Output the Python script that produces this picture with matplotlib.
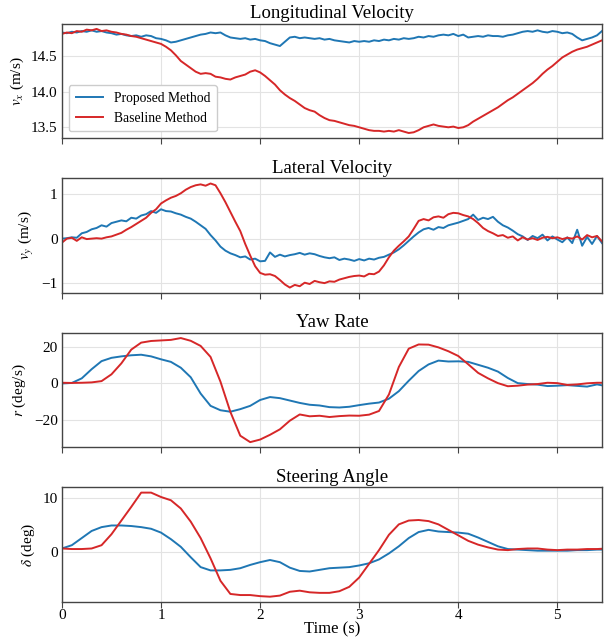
import numpy as np
import matplotlib
matplotlib.use("Agg")
import matplotlib.pyplot as plt
from matplotlib.ticker import MultipleLocator

plt.rcParams["font.family"] = ["Liberation Serif", "DejaVu Serif"]
plt.rcParams["mathtext.fontset"] = "stix"

# sample times (s): velocities logged at 20 Hz, yaw rate / steering at 10 Hz
t_fast = np.arange(110) * 0.05
t_slow = np.arange(56) * 0.1

vx_proposed = [
    14.83, 14.82, 14.84, 14.83, 14.85, 14.84, 14.86, 14.84, 14.85, 14.83,
    14.82, 14.80, 14.81, 14.79, 14.78, 14.79, 14.77, 14.79, 14.78, 14.75,
    14.74, 14.72, 14.69, 14.70, 14.72, 14.74, 14.76, 14.78, 14.80, 14.81,
    14.83, 14.82, 14.83, 14.79, 14.76, 14.75, 14.74, 14.75, 14.73, 14.74,
    14.72, 14.71, 14.68, 14.66, 14.64, 14.70, 14.76, 14.77, 14.75, 14.76,
    14.75, 14.74, 14.75, 14.73, 14.74, 14.72, 14.71, 14.70, 14.69, 14.71,
    14.70, 14.71, 14.70, 14.72, 14.71, 14.73, 14.72, 14.74, 14.73, 14.75,
    14.74, 14.75, 14.77, 14.76, 14.78, 14.77, 14.79, 14.80, 14.79, 14.81,
    14.78, 14.80, 14.76, 14.77, 14.78, 14.77, 14.79, 14.78, 14.78, 14.77,
    14.79, 14.80, 14.82, 14.84, 14.85, 14.84, 14.86, 14.84, 14.83, 14.85,
    14.84, 14.82, 14.83, 14.81, 14.76, 14.72, 14.74, 14.76, 14.79, 14.85,
]
vx_baseline = [
    14.81, 14.83, 14.82, 14.85, 14.84, 14.87, 14.86, 14.88, 14.85, 14.86,
    14.84, 14.83, 14.81, 14.80, 14.78, 14.77, 14.75, 14.73, 14.71, 14.69,
    14.67, 14.63, 14.58, 14.51, 14.43, 14.38, 14.33, 14.28, 14.25, 14.26,
    14.25, 14.21, 14.20, 14.18, 14.17, 14.20, 14.22, 14.24, 14.28, 14.30,
    14.27, 14.22, 14.16, 14.10, 14.02, 13.96, 13.91, 13.87, 13.82, 13.77,
    13.74, 13.72, 13.67, 13.63, 13.60, 13.59, 13.57, 13.55, 13.53, 13.52,
    13.50, 13.48, 13.46, 13.45, 13.45, 13.44, 13.45, 13.44, 13.46, 13.44,
    13.42, 13.43, 13.46, 13.50, 13.52, 13.54, 13.52, 13.51, 13.50, 13.51,
    13.49, 13.50, 13.53, 13.58, 13.62, 13.66, 13.70, 13.74, 13.78, 13.83,
    13.88, 13.92, 13.97, 14.02, 14.07, 14.12, 14.18, 14.25, 14.31, 14.36,
    14.42, 14.48, 14.52, 14.56, 14.59, 14.61, 14.63, 14.66, 14.69, 14.72,
]

vy_proposed = [
    0.00, 0.01, 0.03, 0.02, 0.12, 0.15, 0.21, 0.24, 0.30, 0.27,
    0.35, 0.38, 0.41, 0.39, 0.47, 0.45, 0.52, 0.55, 0.62, 0.58,
    0.66, 0.62, 0.61, 0.57, 0.54, 0.49, 0.45, 0.38, 0.30, 0.22,
    0.08, -0.04, -0.18, -0.27, -0.33, -0.37, -0.42, -0.40, -0.47, -0.45,
    -0.51, -0.50, -0.31, -0.41, -0.36, -0.40, -0.37, -0.35, -0.32, -0.36,
    -0.33, -0.35, -0.39, -0.42, -0.44, -0.42, -0.48, -0.45, -0.47, -0.50,
    -0.46, -0.49, -0.45, -0.47, -0.43, -0.41, -0.36, -0.31, -0.24, -0.15,
    -0.05, 0.05, 0.14, 0.21, 0.24, 0.20, 0.26, 0.24, 0.30, 0.33,
    0.36, 0.40, 0.44, 0.54, 0.42, 0.47, 0.44, 0.49, 0.38, 0.30,
    0.25, 0.18, 0.10, 0.05, -0.03, 0.06, 0.01, 0.09, -0.04, 0.05,
    -0.02, -0.08, 0.03, -0.10, 0.20, -0.16, 0.04, -0.12, 0.06, -0.10,
]
vy_baseline = [
    -0.09, 0.00, 0.02, -0.05, 0.03, -0.01, 0.00, 0.01, 0.00, 0.03,
    0.05, 0.09, 0.13, 0.20, 0.26, 0.33, 0.40, 0.47, 0.58, 0.66,
    0.79, 0.86, 0.92, 0.96, 1.02, 1.10, 1.16, 1.20, 1.22, 1.19,
    1.24, 1.20, 1.02, 0.82, 0.60, 0.38, 0.17, -0.12, -0.38, -0.62,
    -0.77, -0.81, -0.80, -0.84, -0.93, -1.03, -1.10, -1.04, -1.07, -0.99,
    -1.02, -0.95, -0.98, -1.00, -0.96, -0.97, -0.92, -0.89, -0.86, -0.84,
    -0.83, -0.85, -0.79, -0.80, -0.74, -0.60, -0.42, -0.27, -0.16, -0.06,
    0.05, 0.22, 0.40, 0.44, 0.41, 0.48, 0.50, 0.47, 0.55, 0.58,
    0.57, 0.53, 0.50, 0.44, 0.35, 0.24, 0.17, 0.12, 0.06, 0.08,
    0.02, 0.05, -0.04, 0.03, -0.02, 0.01, -0.03, 0.02, 0.04, 0.01,
    0.03, -0.01, 0.02, 0.00, 0.05, -0.02, 0.08, 0.03, 0.06, -0.06,
]

r_proposed = [
    0.0, 0.3, 2.8, 7.8, 12.2, 14.0, 14.8, 15.4, 15.7, 14.8,
    13.2, 11.8, 8.6, 3.4, -5.5, -12.2, -14.6, -15.4, -14.0, -12.2,
    -9.0, -7.4, -8.0, -9.3, -10.6, -11.6, -12.0, -12.9, -13.1, -12.7,
    -11.8, -11.0, -10.4, -8.3, -4.2, 1.5, 6.8, 10.4, 12.5, 12.0,
    12.1, 11.8, 10.2, 8.6, 6.5, 3.0, 0.2, -0.3, -0.6, -1.4,
    -1.2, -0.9, -1.3, -1.7, -0.5, -1.5,
]
r_baseline = [
    0.4, 0.3, 0.4, 0.6, 1.3, 5.0, 11.0, 18.5, 22.3, 23.2,
    23.5, 23.8, 24.8, 23.3, 20.5, 14.5, 1.0, -15.5, -28.5, -32.0,
    -30.6, -28.0, -25.0, -20.3, -16.9, -17.9, -17.6, -18.3, -17.8, -17.5,
    -17.6, -17.0, -15.0, -6.0, 9.0, 19.0, 21.3, 21.2, 19.7, 17.6,
    15.0, 10.5, 5.8, 2.8, 0.2, -1.5, -1.2, -0.6, -0.3, 0.4,
    0.2, -0.8, -0.5, 0.1, 0.4, 0.4,
]

delta_proposed = [
    0.7, 1.3, 2.6, 3.9, 4.6, 4.9, 4.9, 4.8, 4.6, 4.3,
    3.6, 2.4, 1.0, -0.9, -2.7, -3.3, -3.3, -3.2, -2.9, -2.3,
    -1.8, -1.4, -1.8, -2.8, -3.4, -3.5, -3.2, -2.9, -2.8, -2.7,
    -2.4, -2.0, -1.3, -0.2, 1.1, 2.6, 3.7, 4.1, 3.8, 3.7,
    3.6, 3.4, 2.7, 1.9, 1.1, 0.6, 0.5, 0.4, 0.3, 0.3,
    0.3, 0.3, 0.4, 0.4, 0.5, 0.5,
]
delta_baseline = [
    0.7, 0.6, 0.6, 0.7, 1.3, 3.3, 5.8, 8.3, 10.9, 10.9,
    10.1, 9.5, 8.0, 5.6, 2.6, -1.1, -5.2, -7.6, -7.8, -7.8,
    -8.0, -8.1, -7.9, -7.2, -7.0, -7.3, -7.4, -7.4, -7.1, -6.3,
    -4.6, -2.1, 0.4, 3.2, 5.1, 5.8, 5.9, 5.7, 5.1, 4.1,
    3.1, 2.1, 1.4, 0.9, 0.5, 0.4, 0.6, 0.7, 0.7, 0.5,
    0.4, 0.5, 0.5, 0.6, 0.6, 0.7,
]

panels = [
    ("Longitudinal Velocity", r"$v_x$ (m/s)", t_fast, vx_proposed, vx_baseline, 0.5),
    ("Lateral Velocity", r"$v_y$ (m/s)", t_fast, vy_proposed, vy_baseline, 1),
    ("Yaw Rate", r"$r$ (deg/s)", t_slow, r_proposed, r_baseline, 20),
    ("Steering Angle", r"$\delta$ (deg)", t_slow, delta_proposed, delta_baseline, 10),
]

blue = "#1f77b4"
red = "#d62728"

fig, axes = plt.subplots(4, 1, figsize=(6.13, 6.41), dpi=100, sharex=True)
fig.subplots_adjust(left=0.101, right=0.982, top=0.963, bottom=0.061, hspace=0.35)

for ax, (title, ylabel, t, prop, base, step) in zip(axes, panels):
    ax.plot(t, prop, color=blue, lw=1.4, label="Proposed Method")
    ax.plot(t, base, color=red, lw=1.4, label="Baseline Method")
    ax.set_title(title, fontsize=13.5, pad=4)
    ax.set_ylabel(ylabel, fontsize=11)
    ax.yaxis.set_major_locator(MultipleLocator(step))
    ax.grid(True, color="#e3e3e3", lw=0.8)
    ax.set_axisbelow(True)
    for s in ax.spines.values():
        s.set_color("#444444")
        s.set_linewidth(1.0)
    ax.tick_params(axis="y", length=0, labelsize=11, pad=3)
    ax.tick_params(axis="x", length=4, color="#444444", labelsize=11, pad=1)

axes[0].legend(loc="lower left", fontsize=9.8, framealpha=1, edgecolor="#cccccc",
               handlelength=2.0, borderpad=0.5)
axes[-1].set_xlim(0, 5.45)
axes[-1].set_xlabel("Time (s)", fontsize=12, labelpad=0)

fig.savefig("out.png", dpi=100)
